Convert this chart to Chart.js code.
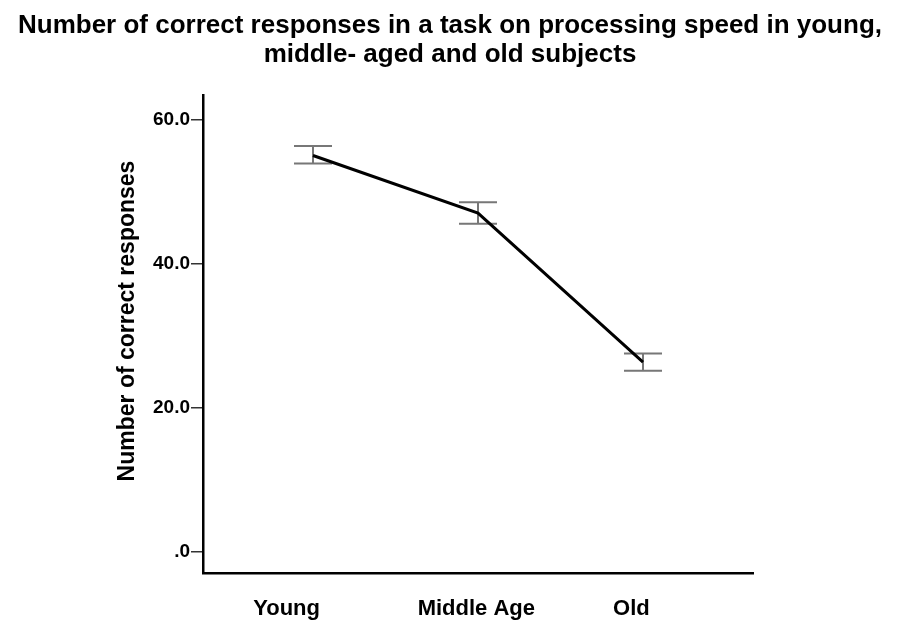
<!DOCTYPE html>
<html>
<head>
<meta charset="utf-8">
<style>
  body { margin: 0; background: #fff; }
  #wrap { position: relative; width: 900px; height: 637px; }
  #title {
    position: absolute; top: 10px; left: 0; width: 900px;
    text-align: center; font-family: "Liberation Sans", Arial, sans-serif;
    font-weight: bold; font-size: 26px; line-height: 29px; color: #000;
  }
</style>
</head>
<body>
<div id="wrap">
  <div id="title">Number of correct responses in a task on processing speed in young,<br>middle- aged and old subjects</div>
  <canvas id="myChart"></canvas>
</div>

<script src="https://cdn.jsdelivr.net/npm/chart.js"></script>
<script>
  const groups = ['Young', 'Middle Age', 'Old'];
  const means = [55.0, 47.0, 26.3];
  const upper = [56.3, 48.5, 27.5];
  const lower = [53.9, 45.5, 25.1];
  const yTicks = [0, 20, 40, 60];
  const yTickLabels = ['.0', '20.0', '40.0', '60.0'];

  const FONT = '"Liberation Sans", Arial, sans-serif';

  // 誤差線
  const errorBars = {
    id: 'errorBars',
    beforeDatasetsDraw(chart) {
      const ctx = chart.ctx;
      const xs = chart.scales.x, ys = chart.scales.y;
      ctx.save();
      ctx.strokeStyle = '#777';
      ctx.lineWidth = 2;
      means.forEach((m, i) => {
        const px = xs.getPixelForValue(i + 1);
        const top = ys.getPixelForValue(upper[i]);
        const bot = ys.getPixelForValue(lower[i]);
        ctx.beginPath();
        ctx.moveTo(px, top); ctx.lineTo(px, bot);
        ctx.moveTo(px - 19, top); ctx.lineTo(px + 19, top);
        ctx.moveTo(px - 19, bot); ctx.lineTo(px + 19, bot);
        ctx.stroke();
      });
      ctx.restore();
    }
  };

  // Y 軸標題
  const yTitle = {
    id: 'yTitle',
    afterDraw(chart) {
      const ctx = chart.ctx;
      ctx.save();
      ctx.translate(128, 321);
      ctx.rotate(-Math.PI / 2);
      ctx.font = 'bold 23px ' + FONT;
      ctx.fillStyle = '#000';
      ctx.textAlign = 'center';
      ctx.textBaseline = 'middle';
      ctx.fillText('Number of correct responses', 0, 0);
      ctx.restore();
    }
  };

  new Chart(document.getElementById('myChart').getContext('2d'), {
    type: 'line',
    data: {
      datasets: [{
        data: means.map((v, i) => ({ x: i + 1, y: v })),
        borderColor: '#000',
        borderWidth: 3,
        pointRadius: 0,
        tension: 0,
        clip: false
      }]
    },
    options: {
      responsive: true,
      maintainAspectRatio: false,
      animation: false,
      layout: { padding: { top: 95, right: 147, left: 0, bottom: 0 } },
      plugins: {
        legend: { display: false },
        tooltip: { enabled: false },
        title: { display: false }
      },
      scales: {
        x: {
          type: 'linear',
          min: 1 / 3,
          max: 11 / 3,
          afterBuildTicks: s => { s.ticks = [0.84, 1.99, 2.93].map(v => ({ value: v })); },
          afterFit: s => { s.height = 64; },
          grid: { display: false, drawTicks: false },
          border: { display: true, color: '#000', width: 2.5 },
          ticks: {
            padding: 23,
            color: '#000',
            font: { family: FONT, size: 22, weight: 'bold' },
            callback: (v, i) => groups[i]
          }
        },
        y: {
          min: -3.0,
          max: 63.4,
          afterBuildTicks: s => { s.ticks = yTicks.map(v => ({ value: v })); },
          afterFit: s => { s.width = 203; },
          grid: { drawOnChartArea: false, drawTicks: true, tickLength: 12, color: '#333', lineWidth: 1.5 },
          border: { display: true, color: '#000', width: 2.5 },
          ticks: {
            padding: 1,
            color: '#000',
            font: { family: FONT, size: 19, weight: 'bold' },
            callback: (v, i) => yTickLabels[i]
          }
        }
      }
    },
    plugins: [errorBars, yTitle]
  });
</script>
</body>
</html>
